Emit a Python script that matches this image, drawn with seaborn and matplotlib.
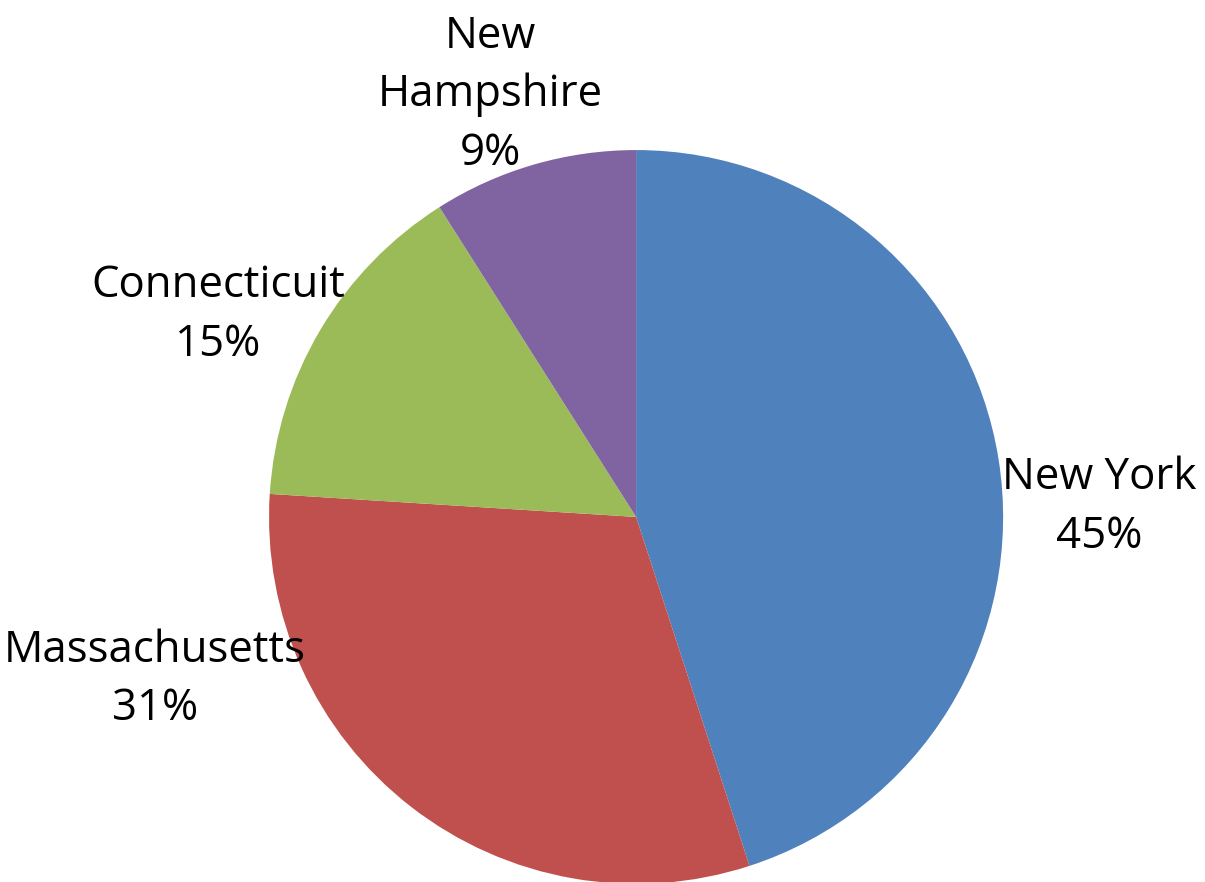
import matplotlib
matplotlib.use('Agg')
import matplotlib.pyplot as plt
import seaborn as sns

# dados da pizza (sentido horario a partir do topo)
estados = ['New York', 'Massachusetts', 'Connecticuit', 'New Hampshire']
rotulos = ['New York', 'Massachusetts', 'Connecticuit', 'New\nHampshire']
percentuais = [45, 31, 15, 9]
cores = ['#4F81BD', '#C0504D', '#9BBB59', '#8064A2']

# posicoes dos rotulos (unidades do raio)
pos_rotulos = [(1.262, 0.027), (-1.311, -0.444), (-1.139, 0.550), (-0.398, 1.150)]

sns.set_style('white')
plt.rcParams['font.family'] = ['Open Sans', 'DejaVu Sans']

fig = plt.figure(figsize=(12.05, 8.82), dpi=100)
ax = fig.add_axes([0, 0, 1, 1])

ax.pie(percentuais, colors=cores, startangle=90, counterclock=False,
       radius=1, center=(0, 0), wedgeprops={'linewidth': 0})

for rot, p, (x, y) in zip(rotulos, percentuais, pos_rotulos):
    ax.text(x, y, f'{rot}\n{p}%', ha='center', va='center',
            fontsize=31.5, linespacing=1.42, color='black')

ax.set_xlim(-1.733, 1.550)
ax.set_ylim(-0.995, 1.409)
ax.set_aspect('auto')
ax.axis('off')

plt.savefig('out.png', dpi=100)
